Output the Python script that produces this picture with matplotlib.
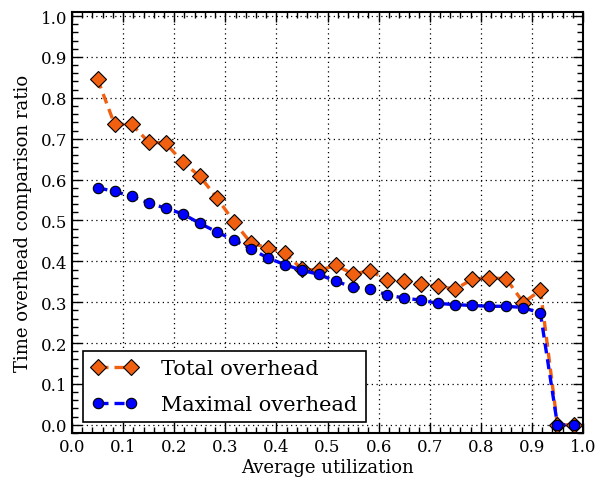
import numpy as np
import matplotlib
matplotlib.use("Agg")
import matplotlib.pyplot as plt
from matplotlib.ticker import MultipleLocator

# utilisation points: 0.05, 0.0833, ... 0.9833 (step 1/30)
utilization = [0.05 + k / 30 for k in range(29)]

total_overhead = [0.846, 0.735, 0.735, 0.692, 0.689, 0.643, 0.608, 0.556, 0.497,
                  0.445, 0.433, 0.420, 0.381, 0.378, 0.390, 0.369, 0.377, 0.354,
                  0.351, 0.344, 0.339, 0.332, 0.356, 0.360, 0.357, 0.299, 0.329,
                  0.0, 0.0]
maximal_overhead = [0.580, 0.571, 0.559, 0.543, 0.530, 0.516, 0.493, 0.472, 0.452,
                    0.431, 0.408, 0.392, 0.378, 0.368, 0.351, 0.337, 0.332, 0.318,
                    0.310, 0.305, 0.297, 0.294, 0.292, 0.290, 0.290, 0.287, 0.273,
                    0.0, 0.0]

plt.rcParams["font.family"] = "DejaVu Serif"

fig = plt.figure(figsize=(5.97, 4.85), dpi=100)
ax = fig.add_axes([72 / 597, 1 - 434 / 485, 511 / 597, 421 / 485])

ax.plot(utilization, total_overhead, "--", color="#F06010", lw=2.4,
        dashes=(3, 1.8), marker="D", ms=8, mfc="#F06010", mec="black",
        mew=0.8, label="Total overhead")
ax.plot(utilization, maximal_overhead, "--", color="#0000FF", lw=2.4,
        dashes=(3, 1.8), marker="o", ms=7.5, mfc="#0000FF", mec="black",
        mew=0.8, label="Maximal overhead")

ax.set_xlim(0.0, 1.0)
ax.set_ylim(-0.02, 1.01)
ax.xaxis.set_major_locator(MultipleLocator(0.1))
ax.xaxis.set_minor_locator(MultipleLocator(0.02))
ax.yaxis.set_major_locator(MultipleLocator(0.1))
ax.yaxis.set_minor_locator(MultipleLocator(0.02))
ax.tick_params(which="both", direction="in", top=True, right=True, labelsize=12)
ax.tick_params(which="major", length=7, width=1)
ax.tick_params(which="minor", length=4, width=1)
ax.grid(True, which="major", linestyle=(0, (1, 2.8)), color="black", lw=0.9)
for s in ax.spines.values():
    s.set_linewidth(1.5)

ax.set_xlabel("Average utilization", fontsize=13, labelpad=2)
ax.set_ylabel("Time overhead comparison ratio", fontsize=13, labelpad=6)

leg = ax.legend(loc="lower left", bbox_to_anchor=(0.0215, 0.0254),
                borderaxespad=0, fontsize=15, numpoints=2, fancybox=False,
                framealpha=1, handlelength=2.2, handletextpad=1.15,
                labelspacing=0.8)
leg.get_frame().set_edgecolor("black")
leg.get_frame().set_linewidth(1.2)

fig.savefig("out.png", dpi=100)
